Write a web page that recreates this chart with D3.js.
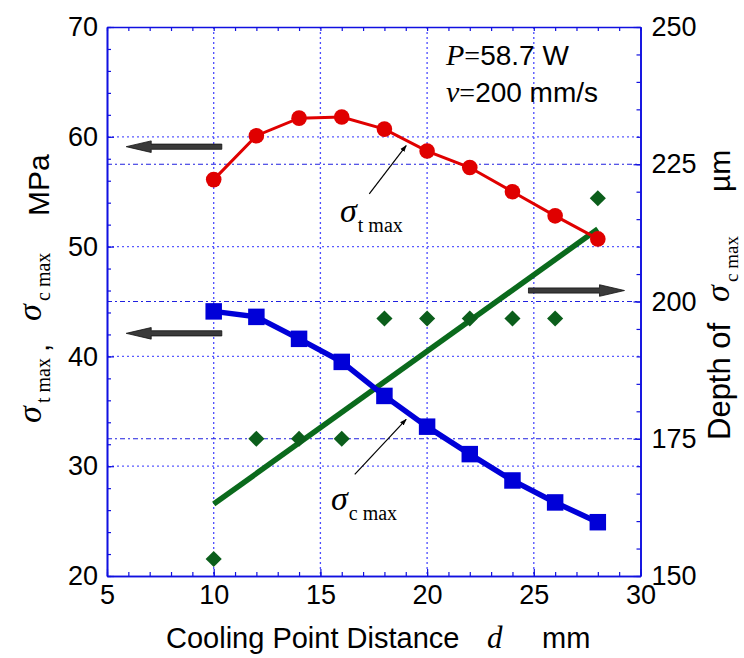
<!DOCTYPE html>
<html><head><meta charset="utf-8">
<script src="https://cdn.jsdelivr.net/npm/d3@7"></script>
<style>body{margin:0;background:#fff} svg{display:block} text{white-space:pre}</style>
</head><body>
<svg id="c" width="744" height="658"></svg>
<script>
// ---- data ----
const distance = [10, 12, 14, 16, 18, 20, 22, 24, 26, 28];
const sigmaTmax = [56.1, 60.1, 61.7, 61.8, 60.7, 58.7, 57.2, 55.0, 52.8, 50.7];
const sigmaCmax = [44.1, 43.6, 41.6, 39.5, 36.4, 33.6, 31.1, 28.7, 26.7, 24.9];
const depth = [153.1, 175, 175, 175, 196.9, 196.9, 196.9, 196.9, 196.9, 218.8];
const fitDistance = [10, 28];
const fitDepth = [163.1, 213.2];
const xTickLabels = [5, 10, 15, 20, 25, 30];
const yLeftTickLabels = [20, 30, 40, 50, 60, 70];
const yRightTickLabels = [150, 175, 200, 225, 250];

(function () {
const L = 107, R = 640.5, T = 27, B = 576;
const svg = d3.select("#c");
const x = d3.scaleLinear().domain([5, 30]).range([L, R]);
const yL = d3.scaleLinear().domain([20, 70]).range([B, T]);
const yR = d3.scaleLinear().domain([150, 250]).range([B, T]);
const SANS = "'Liberation Sans', Arial, sans-serif";
const SERIF = "'Liberation Serif', 'Times New Roman', serif";
const AX = "#1010e0";

// grid
const g = svg.append("g");
g.selectAll(".gv").data([10, 15, 20, 25]).join("line")
  .attr("x1", d => x(d)).attr("x2", d => x(d)).attr("y1", T).attr("y2", B)
  .attr("stroke", "#4a4aff").attr("stroke-width", 1.3).attr("stroke-dasharray", "2,3");
g.selectAll(".gl").data([30, 40, 50, 60]).join("line")
  .attr("x1", L).attr("x2", R).attr("y1", d => yL(d)).attr("y2", d => yL(d))
  .attr("stroke", "#5a5aff").attr("stroke-width", 1.3).attr("stroke-dasharray", "2,3");
g.selectAll(".gr").data([175, 200, 225]).join("line")
  .attr("x1", L).attr("x2", R).attr("y1", d => yR(d)).attr("y2", d => yR(d))
  .attr("stroke", "#2020e0").attr("stroke-width", 1.2).attr("stroke-dasharray", "5,3,2,3");

// axes
function styleAxis(sel) {
  sel.selectAll(".domain").attr("stroke", AX).attr("stroke-width", 1.6);
  sel.selectAll(".tick line").attr("stroke", AX).attr("stroke-width", 1.2);
  sel.selectAll("text").attr("fill", "#000").attr("font-family", SANS).attr("font-size", 27);
}
const axB = svg.append("g").attr("transform", `translate(0,${B})`)
  .call(d3.axisBottom(x).tickValues(xTickLabels).tickSizeInner(-7).tickSizeOuter(0).tickPadding(9).tickFormat(d3.format("d")));
styleAxis(axB);
const axBm = svg.append("g").attr("transform", `translate(0,${B})`)
  .call(d3.axisBottom(x).tickValues(d3.range(5, 30.01, 1)).tickSizeInner(-4).tickSizeOuter(0).tickFormat(""));
styleAxis(axBm);
const axT = svg.append("g").attr("transform", `translate(0,${T})`)
  .call(d3.axisTop(x).tickValues(d3.range(5, 30.01, 1)).tickSizeInner(-4).tickSizeOuter(0).tickFormat(""));
styleAxis(axT);
const axL = svg.append("g").attr("transform", `translate(${L},0)`)
  .call(d3.axisLeft(yL).tickValues(yLeftTickLabels).tickSizeInner(-7).tickSizeOuter(0).tickPadding(9).tickFormat(d3.format("d")));
styleAxis(axL);
const axLm = svg.append("g").attr("transform", `translate(${L},0)`)
  .call(d3.axisLeft(yL).tickValues(d3.range(20, 70.01, 2)).tickSizeInner(-4).tickSizeOuter(0).tickFormat(""));
styleAxis(axLm);
const axR = svg.append("g").attr("transform", `translate(${R},0)`)
  .call(d3.axisRight(yR).tickValues(yRightTickLabels).tickSizeInner(-7).tickSizeOuter(0).tickPadding(11).tickFormat(d3.format("d")));
styleAxis(axR);
const axRm = svg.append("g").attr("transform", `translate(${R},0)`)
  .call(d3.axisRight(yR).tickValues(d3.range(150, 250.01, 5)).tickSizeInner(-4).tickSizeOuter(0).tickFormat(""));
styleAxis(axRm);

// series
const tData = distance.map((d, i) => [d, sigmaTmax[i]]);
const cData = distance.map((d, i) => [d, sigmaCmax[i]]);
const dData = distance.map((d, i) => [d, depth[i]]);
const fData = fitDistance.map((d, i) => [d, fitDepth[i]]);

svg.append("path").datum(fData)
  .attr("d", d3.line().x(d => x(d[0])).y(d => yR(d[1])))
  .attr("stroke", "#0a6a1c").attr("stroke-width", 5.5).attr("fill", "none");
svg.selectAll(".dia").data(dData).join("path")
  .attr("transform", d => `translate(${x(d[0])},${yR(d[1])}) rotate(45)`)
  .attr("d", d3.symbol(d3.symbolSquare, 130)())
  .attr("fill", "#0b5e1b");

svg.append("path").datum(cData)
  .attr("d", d3.line().x(d => x(d[0])).y(d => yL(d[1])))
  .attr("stroke", "#0000d8").attr("stroke-width", 5.5).attr("fill", "none");
svg.selectAll(".sq").data(cData).join("path")
  .attr("transform", d => `translate(${x(d[0])},${yL(d[1])})`)
  .attr("d", d3.symbol(d3.symbolSquare, 272)())
  .attr("fill", "#0000d8");

svg.append("path").datum(tData)
  .attr("d", d3.line().x(d => x(d[0])).y(d => yL(d[1])))
  .attr("stroke", "#e00000").attr("stroke-width", 3).attr("fill", "none");
svg.selectAll(".ci").data(tData).join("circle")
  .attr("cx", d => x(d[0])).attr("cy", d => yL(d[1])).attr("r", 7.8)
  .attr("fill", "#e00000");

// fat arrows (data coords)
function fatArrow(x1, x2, yv, yScale) {
  const px1 = x(x1), px2 = x(x2), py = yScale(yv);
  const dir = Math.sign(px2 - px1), hl = 25, sh = 2.6, hh = 5.8;
  const hb = px2 - dir * hl;
  const p = d3.path();
  p.moveTo(px1, py - sh); p.lineTo(hb, py - sh); p.lineTo(hb, py - hh);
  p.lineTo(px2, py); p.lineTo(hb, py + hh); p.lineTo(hb, py + sh);
  p.lineTo(px1, py + sh); p.closePath();
  svg.append("path").attr("d", p.toString()).attr("fill", "#3a3a3a").attr("stroke", "#111").attr("stroke-width", 0.8);
}
fatArrow(10.38, 5.9, 59.1, yL);
fatArrow(10.38, 5.9, 42.1, yL);
fatArrow(24.75, 29.25, 202, yR);

// thin arrows
svg.append("defs").append("marker").attr("id", "ah").attr("viewBox", "0 0 10 10")
  .attr("refX", 9).attr("refY", 5).attr("markerWidth", 7).attr("markerHeight", 7)
  .attr("markerUnits", "userSpaceOnUse").attr("orient", "auto")
  .append("path").attr("d", "M0,1.5 L10,5 L0,8.5 Z").attr("fill", "#000");
function thin(x1, y1, x2, y2) {
  svg.append("line").attr("x1", x(x1)).attr("y1", yL(y1)).attr("x2", x(x2)).attr("y2", yL(y2))
    .attr("stroke", "#000").attr("stroke-width", 1.2).attr("marker-end", "url(#ah)");
}
thin(17.29, 54.8, 19.02, 59.2);
thin(16.61, 29.26, 19.02, 34.27);

// sigma labels
function sigmaLabel(px, py, sub) {
  const t = svg.append("text").attr("x", px).attr("y", py).attr("font-family", SERIF);
  t.append("tspan").attr("font-size", 34).attr("font-style", "italic").text("σ");
  t.append("tspan").attr("font-size", 20).attr("dy", 10).attr("dx", 1).text(sub);
}
sigmaLabel(340, 222, "t max");
sigmaLabel(331, 510, "c max");

// P, v annotation
function param(px, py, sym, rest) {
  const t = svg.append("text").attr("x", px).attr("y", py);
  t.append("tspan").attr("font-family", SERIF).attr("font-style", "italic").attr("font-size", 30).text(sym);
  t.append("tspan").attr("font-family", SERIF).attr("font-size", 28).text("=");
  t.append("tspan").attr("font-family", SANS).attr("font-size", 28).text(rest);
}
param(446, 65, "P", "58.7 W");
param(446, 102, "v", "200 mm/s");

// x title
svg.append("text").attr("x", 166).attr("y", 648).attr("font-family", SANS).attr("font-size", 29).text("Cooling Point Distance");
svg.append("text").attr("x", 487).attr("y", 648).attr("font-family", SERIF).attr("font-style", "italic").attr("font-size", 31).text("d");
svg.append("text").attr("x", 542).attr("y", 648).attr("font-family", SANS).attr("font-size", 29).text("mm");

// rotated titles: piece placed at screen y (bottom end), baseline at screen x
function rot(bx, yStart, str, fam, size, italic) {
  return svg.append("text").attr("transform", `translate(${bx},${yStart}) rotate(-90)`)
    .attr("font-family", fam).attr("font-size", size).attr("font-style", italic ? "italic" : "normal").text(str);
}
// left title
rot(41, 423, "σ", SERIF, 34, true);
rot(50, 403, "t max", SERIF, 20, false);
rot(49, 352, ",", SANS, 29, false);
rot(41, 321, "σ", SERIF, 34, true);
rot(50, 301, "c max", SERIF, 20, false);
rot(49, 216, "MPa", SANS, 30, false);
// right title
rot(730, 440, "Depth of", SANS, 31, false);
rot(729, 302, "σ", SERIF, 34, true);
rot(738, 282, "c max", SERIF, 19, false);
rot(730, 192, "µm", SANS, 30, false);
})();
</script>
</body></html>
